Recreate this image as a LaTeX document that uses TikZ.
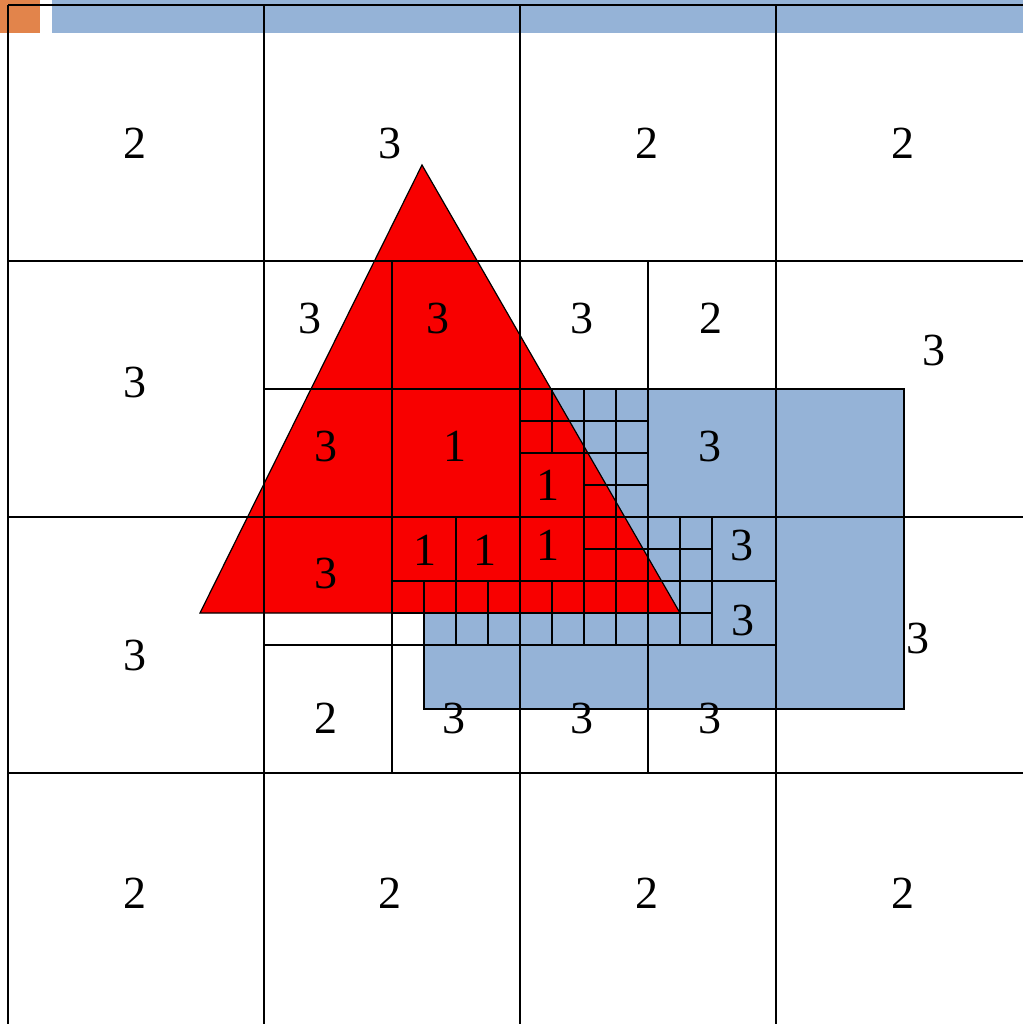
\documentclass[tikz,border=0pt]{standalone}
\usepackage{fontspec}
\setmainfont{Liberation Serif}
\definecolor{qblue}{HTML}{95B3D7}
\definecolor{qred}{HTML}{F80000}
\definecolor{qorange}{HTML}{E2844B}
\begin{document}
\begin{tikzpicture}[x=1pt,y=-1pt,
  gridline/.style={line width=1.4pt,black},
  lbl/.style={inner sep=0pt,font=\fontsize{46}{50}\selectfont}]
\useasboundingbox (0,0) rectangle (1023,1024);
\fill[white] (0,0) rectangle (1023,1024);
% header bars
\fill[qorange] (0,0) rectangle (40,33);
\fill[qblue] (52,0) rectangle (1023,33);
% blue rectangle
\draw[gridline,fill=qblue] (424,389) rectangle (904,709);
% red triangle
\draw[line width=1.2pt,fill=qred] (422,165) -- (680,613) -- (200,613) -- cycle;
% level 1 grid
\foreach \x in {8,264,520,776} \draw[gridline] (\x,5) -- (\x,1024);
\foreach \y in {5,261,517,773} \draw[gridline] (8,\y) -- (1023,\y);
% level 2
\foreach \x in {392,648} \draw[gridline] (\x,261) -- (\x,773);
\foreach \y in {389,645} \draw[gridline] (264,\y) -- (776,\y);
% level 3
\draw[gridline] (584,389) -- (584,645);
\draw[gridline] (520,453) -- (648,453);
\draw[gridline] (456,517) -- (456,645);
\draw[gridline] (712,517) -- (712,645);
\draw[gridline] (392,581) -- (776,581);
% level 4
\draw[gridline] (552,389) -- (552,453);
\draw[gridline] (552,581) -- (552,645);
\draw[gridline] (616,389) -- (616,645);
\draw[gridline] (520,421) -- (648,421);
\draw[gridline] (584,485) -- (648,485);
\draw[gridline] (584,549) -- (712,549);
\draw[gridline] (680,517) -- (680,645);
\draw[gridline] (424,581) -- (424,645);
\draw[gridline] (488,581) -- (488,645);
\draw[gridline] (392,613) -- (712,613);
% labels level 1
\node[lbl] (a1) at (135,143) {2};
\node[lbl] (a2) at (390,143) {3};
\node[lbl] (a3) at (647,143) {2};
\node[lbl] (a4) at (903,143) {2};
\node[lbl] (b1) at (135,382) {3};
\node[lbl] (b4) at (934,350) {3};
\node[lbl] (c1) at (135,655) {3};
\node[lbl] (c4) at (918,638) {3};
\node[lbl] (d1) at (135,893) {2};
\node[lbl] (d2) at (390,893) {2};
\node[lbl] (d3) at (647,893) {2};
\node[lbl] (d4) at (903,893) {2};
% labels level 2
\node[lbl] (e1) at (310,318) {3};
\node[lbl] (e2) at (438,318) {3};
\node[lbl] (e3) at (582,318) {3};
\node[lbl] (e4) at (711,318) {2};
\node[lbl] (f1) at (326,446) {3};
\node[lbl] (f2) at (455,446) {1};
\node[lbl] (f4) at (710,446) {3};
\node[lbl] (g1) at (326,573) {3};
\node[lbl] (h1) at (326,718) {2};
\node[lbl] (h2) at (454,718) {3};
\node[lbl] (h3) at (582,718) {3};
\node[lbl] (h4) at (710,718) {3};
% labels level 3
\node[lbl] (k1) at (548,485) {1};
\node[lbl] (k2) at (425,550) {1};
\node[lbl] (k3) at (485,550) {1};
\node[lbl] (k4) at (548,545) {1};
\node[lbl] (k5) at (742,545) {3};
\node[lbl] (k6) at (743,620) {3};
\end{tikzpicture}
\end{document}
